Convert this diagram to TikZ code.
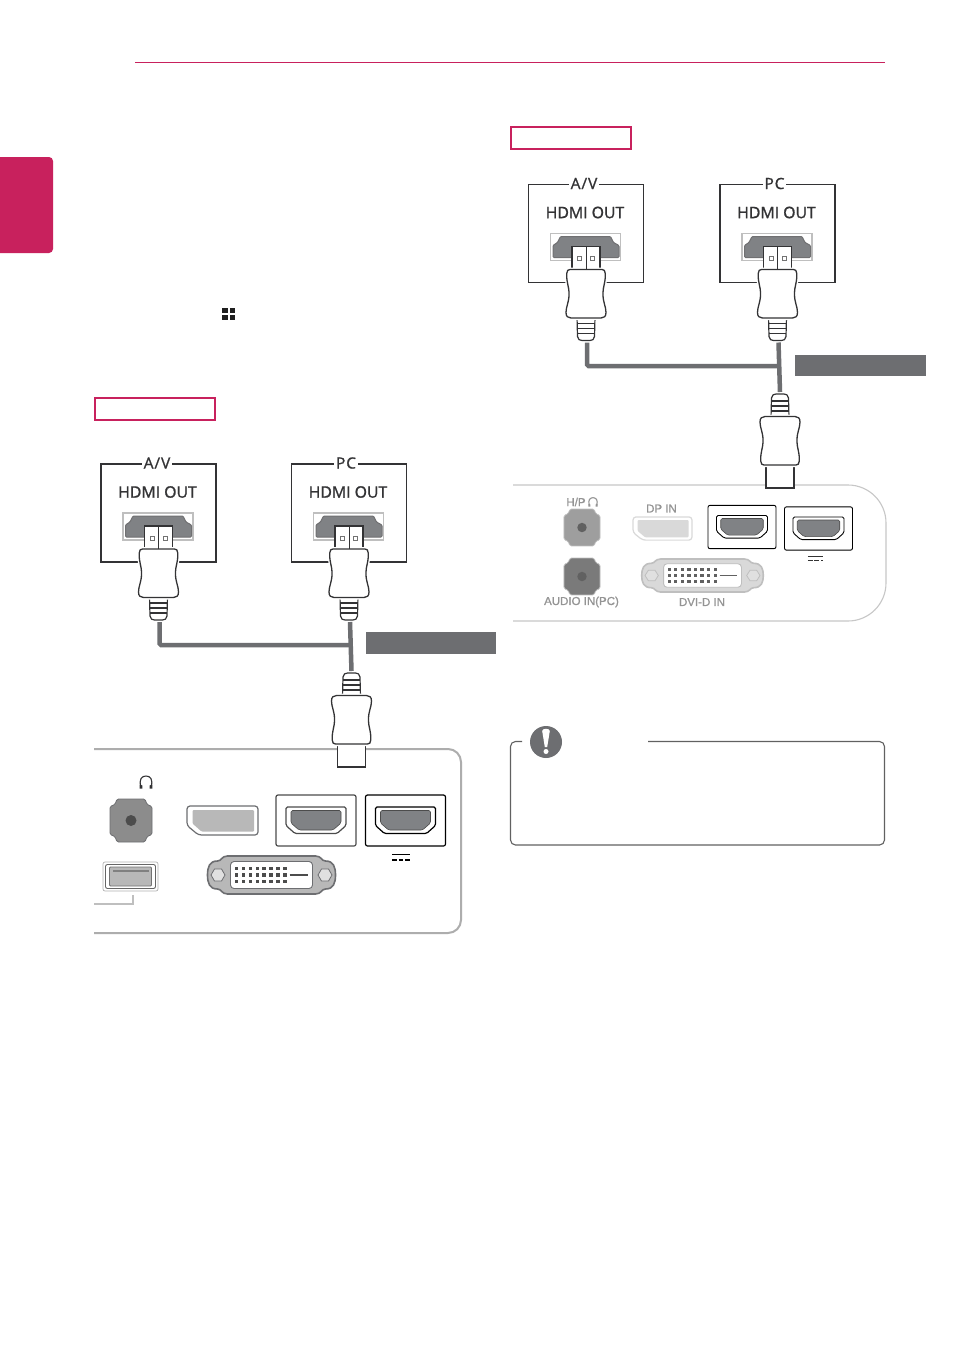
\documentclass[tikz,border=0pt]{standalone}
\usepackage{fontspec}
\setmainfont{Open Sans}
\newfontfamily\srcfont[FakeBold=1.3]{Open Sans}
\newfontfamily\titlefont[FakeBold=1.0,LetterSpace=6]{Open Sans}
\newfontfamily\labelfont[FakeBold=1.0]{Liberation Sans}
\definecolor{lgred}{HTML}{C8215D}
\definecolor{cablegray}{HTML}{6D6E71}
\definecolor{inkdark}{HTML}{333335}
\definecolor{portgray}{HTML}{808285}
\colorlet{partedge}{cablegray}
\colorlet{partfill}{black!28}
\colorlet{partdark}{black!70}
\colorlet{jackfill}{black!45}
\tikzset{
  x=1pt, y=-1pt,
  cable/.style={draw=cablegray, line width=4.5pt, rounded corners=1.5pt},
  tagred/.style={draw=lgred, line width=2pt, fill=white, minimum width=120pt, minimum height=22pt, inner sep=0pt},
  taggray/.style={fill=cablegray, minimum width=130.5pt, minimum height=21.5pt, inner sep=0pt},
  srctitle/.style={font=\titlefont\fontsize{15.5}{17}\selectfont, text=inkdark, fill=white, inner sep=1.5pt},
  srcport/.style={font=\srcfont\fontsize{15.8}{17}\selectfont, text=inkdark, inner sep=0pt},
  plabel/.style={font=\labelfont\fontsize{11.5}{12}\selectfont, text=black!42, inner sep=0pt},
  pics/plugbody/.style={code={
    % connector drawn pointing up, origin at the middle of its tip end
    \draw[inkdark, line width=1.1pt, fill=white] (-14,0) rectangle (14,24);
    \draw[inkdark, line width=1.2pt, fill=white, line join=round]
      (-9,70) -- (9,70) -- (8.5,90) .. controls (8.5,93) and (6,94) .. (4,94)
      -- (-4,94) .. controls (-6,94) and (-8.5,93) .. (-8.5,90) -- cycle;
    \foreach \ry in {77,82,87} \draw[inkdark, line width=1.4pt] (-8.5,\ry) -- (8.5,\ry);
    \draw[inkdark, line width=1.3pt, fill=white, preaction={draw=white, line width=4pt}]
      (-16,23) -- (16,23) .. controls (18,23) and (19,24) .. (19.3,27)
      .. controls (19.5,38) and (17,38) .. (17,48)
      .. controls (17,56) and (20,60) .. (20,66)
      .. controls (20,70) and (18,71.5) .. (15,71.5) -- (-15,71.5)
      .. controls (-18,71.5) and (-20,70) .. (-20,66)
      .. controls (-20,60) and (-17,56) .. (-17,48)
      .. controls (-17,38) and (-19.5,38) .. (-19.3,27)
      .. controls (-19,24) and (-18,23) .. (-16,23) -- cycle;
  }},
  pics/source/.style args={#1 at #2}{code={
    % video source: framed HDMI OUT port with a plugged connector
    \draw[inkdark, line width=1.3pt] (0,0) rectangle (115,98);
    \node[srctitle] (-title) at (#2,-1) {#1};
    \node[srcport] (-port) at (56.5,28) {HDMI OUT};
    \draw[black!25, line width=1.2pt] (22,49) rectangle (92,76);
    \draw[inkdark!70, fill=portgray, line width=1pt, rounded corners=1pt]
      (32,52) -- (82,52) -- (85,58) -- (90.5,61) -- (90.5,73) -- (24.5,73) -- (24.5,61) -- (29,58) -- cycle;
    \pic at (57.5,62) {plugbody};
    \draw[inkdark, line width=1pt] (57.5,62) -- (57.5,85);
    \draw[black!55, line width=.6pt] (49,72) rectangle (53,76);
    \draw[black!55, line width=.6pt] (62,72) rectangle (66,76);
    \coordinate (-cable) at (58.5,158);
  }},
  pics/hdmi/.style={code={
    % boxed HDMI socket, origin at the box centre
    \draw[line width=1.2pt, #1, fill=white, rounded corners=2pt] (-40,-25.5) rectangle (40,25.5);
    \draw[line width=1.2pt, #1, rounded corners=1.5pt]
      (-30,-13.5) -- (30,-13.5) -- (30,5) -- (21,13) -- (-21,13) -- (-30,5) -- cycle;
    \draw[black!70, fill=portgray, line width=.6pt, rounded corners=1.5pt]
      (-25,-10) -- (25,-10) -- (25,2.5) -- (17,9.5) -- (-17,9.5) -- (-25,2.5) -- cycle;
  }},
  pics/jack/.style={code={
    \fill[jackfill, draw=partedge, line width=.8pt, rounded corners=1.5pt]
      (-14,-21.5) -- (14,-21.5) -- (16,-16) -- (21,-14) -- (21,14) -- (16,16) -- (14,21.5)
      -- (-14,21.5) -- (-16,16) -- (-21,14) -- (-21,-14) -- (-16,-16) -- cycle;
    \fill[partdark] (0,0) circle (5.5);
  }},
  pics/dport/.style={code={
    \draw[partedge, line width=1.2pt, fill=white, rounded corners=3pt]
      (-35.5,-14.5) -- (35.5,-14.5) -- (35.5,14.5) -- (-24,14.5) -- (-35.5,5) -- cycle;
    \fill[partfill, rounded corners=1pt]
      (-30,-10.5) -- (31.5,-10.5) -- (31.5,11) -- (-21,11) -- (-30,3) -- cycle;
  }},
  pics/dvisocket/.style={code={
    \draw[partedge, line width=1.6pt, fill=partfill]
      (-44,-19) -- (44,-19) .. controls (50,-19) and (50,-14) .. (54,-14)
      .. controls (62,-14) and (64,-8) .. (64,0) .. controls (64,8) and (62,14) .. (54,14)
      .. controls (50,14) and (50,19) .. (44,19) -- (-44,19)
      .. controls (-50,19) and (-50,14) .. (-54,14)
      .. controls (-62,14) and (-64,8) .. (-64,0) .. controls (-64,-8) and (-62,-14) .. (-54,-14)
      .. controls (-50,-14) and (-50,-19) .. (-44,-19) -- cycle;
    \draw[partedge, line width=.9pt, fill=white, rounded corners=3.5pt] (-41,-13.5) rectangle (41,13.5);
    \foreach \hx in {-53.5,53.5}
      \draw[partedge, line width=.8pt, fill=black!12]
        (\hx-7,0) -- (\hx-3.5,-6) -- (\hx+3.5,-6) -- (\hx+7,0) -- (\hx+3.5,6) -- (\hx-3.5,6) -- cycle;
    \foreach \ry in {-6.5,0,6.5}
      \foreach \cx in {0,...,7}
        \fill[partdark] ({-35+6.9*\cx-1.7},\ry-1.7) rectangle ({-35+6.9*\cx+1.7},\ry+1.7);
    \draw[partdark, line width=1.3pt] (18,0) -- (36,0);
  }},
  pics/usbport/.style={code={
    \draw[black!30, line width=.7pt, rounded corners=2pt] (-27.5,-14.5) rectangle (27.5,14.5);
    \draw[black!60, line width=.9pt, rounded corners=2pt, fill=white] (-25,-12) rectangle (25,12);
    \draw[black!55, line width=.8pt, fill=partfill, rounded corners=1pt] (-21,-9.5) rectangle (21,9.5);
    \fill[black!50] (-18,-7) rectangle (18,-4.5);
  }},
  pics/phones/.style={code={
    \draw[#1, line width=1.1pt] (-5,5) .. controls (-7.5,-3) and (-4,-6) .. (0,-6) .. controls (4,-6) and (7.5,-3) .. (5,5);
    \fill[#1] (-6.3,2.5) -- (-3.6,3.5) -- (-3.6,6.5) -- (-6.3,6.5) -- cycle;
    \fill[#1] (6.3,2.5) -- (3.6,3.5) -- (3.6,6.5) -- (6.3,6.5) -- cycle;
  }},
  pics/dcmark/.style={code={
    \draw[#1] (-9,-3) -- (9,-3);
    \draw[#1, dash pattern=on 4.8pt off 1.8pt] (-9,2.5) -- (9,2.5);
  }},
}
\begin{document}
\begin{tikzpicture}
\useasboundingbox (0,0) rectangle (954,1347);
\fill[white] (0,0) rectangle (954,1347);

% page furniture
\coordinate (ruleL) at (135,62.5);
\coordinate (ruleR) at (885,62.5);
\draw[lgred, line width=1pt] (ruleL) -- (ruleR);
\fill[lgred, rounded corners=4pt] (-8,157) rectangle (53,253);
\foreach \qx/\qy in {222/308,229.5/308,222/315,229.5/315}
  \fill[black!88] (\qx,\qy) rectangle (\qx+5.6,\qy+5.2);

% ---------- left connection ----------
\node[tagred] (tagL) at (155,408.5) {};
\coordinate (panelLa) at (94,749);
\coordinate (panelLb) at (94,933);
\draw[black!32, line width=2pt, rounded corners=13pt] (panelLa) -- (461,749) -- (461,933) -- (panelLb);

\pic (avL) at (101,464) {source={A/V at 56}};
\pic (pcL) at (291.5,464) {source={PC at 54.5}};
\pic[yscale=-1] at (351.5,767) {plugbody};
\coordinate (inL) at (351.5,671);
\coordinate (teeL) at (351.5,645);
\draw[cable] (avL-cable) |- (teeL);
\draw[cable] (pcL-cable) -- (inL);
\node[taggray] (grayL) at (431,643) {};

\pic at (131,820.5) {jack};
\pic at (146,782) {phones={inkdark}};
\pic at (222.5,820.5) {dport};
\pic at (316,820.5) {hdmi={black!70}};
\pic at (405.5,820.5) {hdmi={black}};
\pic at (401,857.5) {dcmark={line width=1.5pt, black}};
\pic at (130.5,876.5) {usbport};
\pic at (271.5,875) {dvisocket};
\draw[black!25, line width=1.3pt] (94,904) -- (133,904) -- (133,895);

% ---------- right connection ----------
\node[tagred] (tagR) at (570.5,138) {};
\coordinate (panelRa) at (513,485);
\coordinate (panelRb) at (513,621);
\draw[black!22, line width=1.1pt, rounded corners=38pt] (panelRa) -- (886,485) -- (886,621) -- (panelRb);

\pic (avR) at (528.5,184.5) {source={A/V at 55.5}};
\pic (pcR) at (720,184.5) {source={PC at 54.5}};
\pic[yscale=-1] at (780,488) {plugbody};
\coordinate (inR) at (780,392);
\coordinate (teeR) at (780,366);
\draw[cable] (avR-cable) |- (teeR);
\draw[cable] (pcR-cable) -- (inR);
\node[taggray] (grayR) at (860.5,365.5) {};

\begin{scope}
  \colorlet{partedge}{black!25}
  \colorlet{partfill}{black!15}
  \colorlet{partdark}{black!62}
  \colorlet{jackfill}{black!38}
  \pic[scale=.86] at (582,527.5) {jack};
  \node[plabel] (hp) at (576,502) {H/P};
  \pic[scale=.72] at (593,502) {phones={black!42}};
  \colorlet{jackfill}{black!52}
  \pic[scale=.86] at (582,576.5) {jack};
  \node[plabel] (audio) at (581.5,602) {AUDIO IN(PC)};
  \node[plabel] (dpin) at (661.5,508.5) {DP IN};
  \colorlet{partedge}{black!15}
  \pic[xscale=.83, yscale=.8] at (662.5,528.5) {dport};
  \colorlet{partedge}{black!25}
  \pic[scale=.85] at (742,527) {hdmi={black,line width=.9pt}};
  \pic[scale=.85] at (818.5,528.5) {hdmi={black,line width=.9pt}};
  \pic[scale=.85] at (815.5,558.5) {dcmark={line width=.9pt, black!80}};
  \pic[xscale=.95, yscale=.87] at (702.5,575.5) {dvisocket};
  \node[plabel] (dvi) at (702,602) {DVI-D IN};
\end{scope}

% note frame with its marker
\coordinate (noteA) at (522,741.5);
\coordinate (noteB) at (648,741.5);
\draw[black!62, line width=1.1pt, rounded corners=5pt]
  (noteA) -- (510.5,741.5) -- (510.5,845) -- (884.5,845) -- (884.5,741.5) -- (noteB);
\node[circle, fill=cablegray, minimum size=32pt, inner sep=0pt] (mark) at (546,742) {};
\fill[white] (542.2,731) .. controls (542.2,728) and (549.8,728) .. (549.8,731)
  -- (547.2,747) -- (544.8,747) -- cycle;
\fill[white] (546,751.5) circle (2.5);
\end{tikzpicture}
\end{document}
